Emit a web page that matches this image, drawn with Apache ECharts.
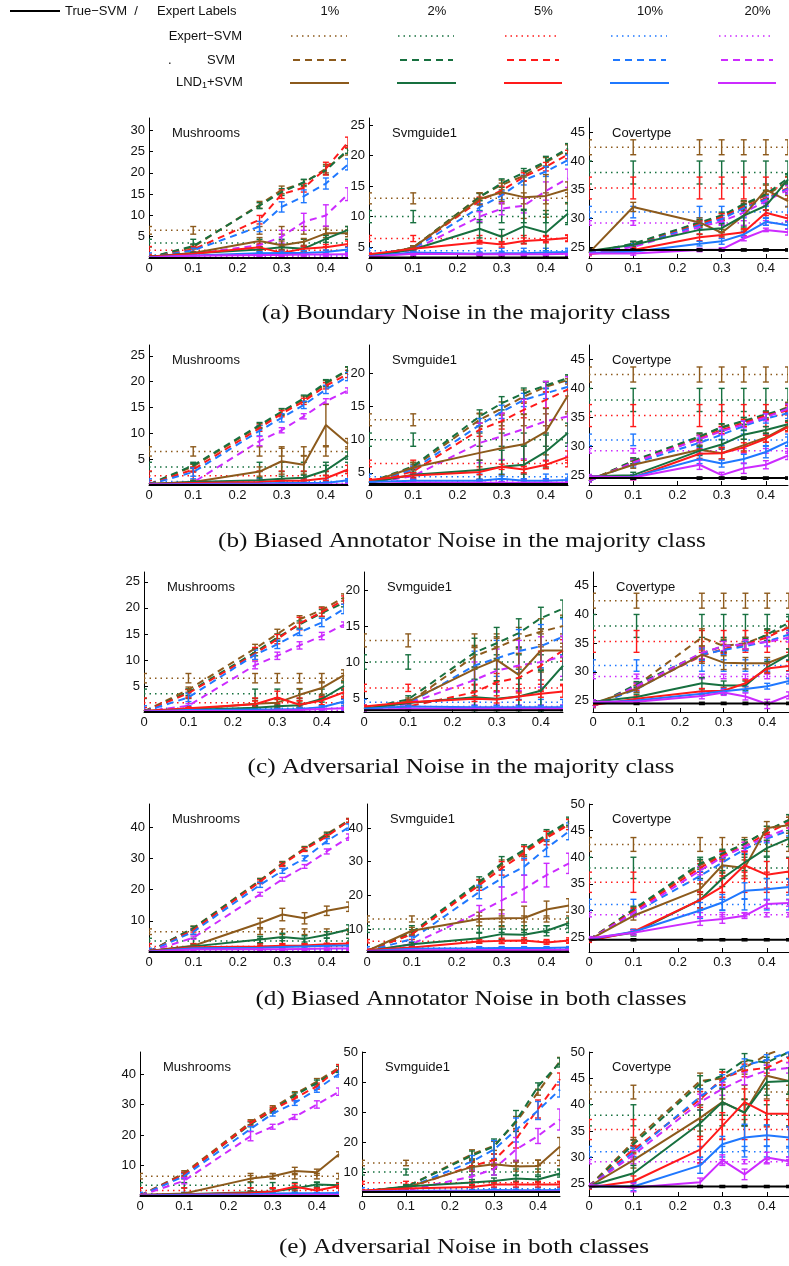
<!DOCTYPE html>
<html>
<head>
<meta charset="utf-8">
<script src="https://cdn.jsdelivr.net/npm/echarts@6/dist/echarts.min.js"></script>
<style>
html,body{margin:0;padding:0;background:#fff;}
#chart{width:789px;height:1266px;}
</style>
</head>
<body>
<div id="chart"></div>
<script>
// ---- shared axes / labels ----
const NOISE_LEVELS = [0, 0.1, 0.25, 0.3, 0.35, 0.4, 0.45];
const X_TICKS = [0, 0.1, 0.2, 0.3, 0.4];
const EXPERT_FRACTIONS = ['1%', '2%', '5%', '10%', '20%'];
const DATASETS = ['Mushrooms', 'Svmguide1', 'Covertype'];
const CAPTIONS = [
  '(a) Boundary Noise in the majority class',
  '(b) Biased Annotator Noise in the majority class',
  '(c) Adversarial Noise in the majority class',
  '(d) Biased Annotator Noise in both classes',
  '(e) Adversarial Noise in both classes'
];

// ---- reference levels (same expert labels for every noise type) ----
const EXPERT_MUSH = [6.5, 3.5, 1.8, 0.7, 0.3];
const EXPERT_MUSH_ERR = [0.9, 0.9, 0.9, 0.5, 0.2];
const EXPERT_SVMG = [13.0, 10.0, 6.4, 4.4, 3.8];
const EXPERT_SVMG_ERR = [0.9, 1.0, 0.5, 0.4, 0.2];
const EXPERT_COVT = [42.4, 38.0, 35.3, 31.1, 29.2];
const EXPERT_COVT_ERR = [1.3, 2.0, 1.9, 1.0, 0.4];
const TRUE_SVM = [0.0, 3.3, 24.5];
const TRUE_SVM_ERR = [0.0, 0.05, 0.2];

// ---- y ranges and tick labels per row ----
const Y_RANGE_A = [[0, 32.9], [3.2, 26.2], [23.1, 47.5]];
const Y_TICKS_A = [[5, 10, 15, 20, 25, 30], [5, 10, 15, 20, 25], [25, 30, 35, 40, 45]];
const Y_RANGE_B = [[0, 27.1], [3.15, 24.3], [23.3, 47.5]];
const Y_TICKS_B = [[5, 10, 15, 20, 25], [5, 10, 15, 20], [25, 30, 35, 40, 45]];
const Y_RANGE_C = [[0, 26.9], [3.05, 22.5], [23.0, 47.4]];
const Y_TICKS_C = [[5, 10, 15, 20, 25], [5, 10, 15, 20], [25, 30, 35, 40, 45]];
const Y_RANGE_D = [[0, 47.4], [3.2, 47.1], [22.2, 50]];
const Y_TICKS_D = [[10, 20, 30, 40], [10, 20, 30, 40], [25, 30, 35, 40, 45, 50]];
const Y_RANGE_E = [[0, 47.2], [2.0, 50], [22.7, 50]];
const Y_TICKS_E = [[10, 20, 30, 40], [10, 20, 30, 40, 50], [25, 30, 35, 40, 45, 50]];

// ---- (a) Boundary noise, majority class ----
const MUSH_A_SVM = [
  [0.1, 2.6, 12.5, 16.0, 17.6, 21.0, 25.0],
  [0.1, 2.8, 12.3, 15.5, 17.8, 20.6, 25.5],
  [0.1, 2.0, 9.0, 15.0, 16.5, 21.0, 27.2],
  [0.1, 1.8, 7.4, 12.0, 14.5, 17.5, 22.0],
  [0.1, 1.0, 3.0, 5.0, 8.5, 10.0, 15.0]];
const MUSH_A_SVM_ERR = [
  [0.1, 0.5, 0.8, 0.9, 0.8, 1.0, 0.8],
  [0.1, 0.5, 0.7, 0.8, 0.7, 1.0, 0.9],
  [0.1, 0.6, 1.0, 1.0, 1.0, 1.5, 1.2],
  [0.1, 0.5, 1.2, 1.2, 1.5, 1.3, 1.3],
  [0.1, 0.3, 0.8, 1.5, 2.0, 2.5, 1.5]];
const MUSH_A_LND = [
  [0.3, 1.2, 4.0, 3.0, 3.8, 5.8, 5.8],
  [0.3, 1.1, 2.0, 2.5, 2.2, 4.5, 6.6],
  [0.3, 1.0, 2.5, 1.2, 2.2, 2.5, 3.3],
  [0.2, 0.6, 1.1, 1.2, 1.2, 1.4, 2.0],
  [0.1, 0.5, 0.7, 0.7, 0.8, 0.8, 0.9]];
const MUSH_A_LND_ERR = [
  [0.1, 0.3, 0.8, 1.0, 0.8, 1.0, 0.8],
  [0.1, 0.3, 0.6, 0.7, 0.6, 0.8, 0.8],
  [0.1, 0.3, 0.8, 0.6, 0.6, 0.7, 0.7],
  [0.1, 0.2, 0.4, 0.4, 0.5, 0.5, 0.5],
  [0.05, 0.2, 0.3, 0.3, 0.3, 0.3, 0.3]];
const SVMG_A_SVM = [
  [3.5, 4.9, 13.3, 15.2, 16.7, 18.9, 21.0],
  [3.5, 4.9, 13.2, 15.5, 17.2, 19.1, 21.2],
  [3.5, 4.8, 12.6, 14.3, 16.5, 18.2, 20.2],
  [3.5, 4.7, 11.5, 13.5, 16.0, 17.4, 19.3],
  [3.5, 4.5, 10.0, 11.3, 11.8, 14.2, 16.3]];
const SVMG_A_SVM_ERR = [
  [0.2, 0.3, 0.6, 0.8, 0.8, 0.8, 0.8],
  [0.2, 0.3, 0.6, 0.7, 0.7, 0.8, 0.8],
  [0.2, 0.3, 0.6, 0.7, 0.7, 0.7, 0.7],
  [0.2, 0.3, 0.6, 0.7, 0.8, 0.8, 0.8],
  [0.2, 0.3, 0.8, 1.0, 1.2, 1.5, 1.5]];
const SVMG_A_LND = [
  [3.5, 4.9, 12.9, 14.0, 13.2, 13.4, 14.5],
  [3.5, 4.6, 8.0, 6.7, 8.4, 7.4, 10.5],
  [3.8, 4.7, 5.8, 5.4, 6.0, 6.2, 6.5],
  [3.5, 4.1, 3.9, 4.0, 4.0, 4.1, 4.2],
  [3.4, 3.9, 3.8, 3.8, 3.8, 3.8, 3.9]];
const SVMG_A_LND_ERR = [
  [0.2, 0.3, 1.0, 1.5, 3.5, 3.5, 1.2],
  [0.2, 0.3, 1.5, 1.2, 2.8, 3.0, 1.8],
  [0.2, 0.2, 0.3, 0.4, 0.5, 0.5, 0.5],
  [0.1, 0.2, 0.3, 0.3, 0.3, 0.3, 0.3],
  [0.1, 0.1, 0.2, 0.2, 0.2, 0.2, 0.2]];
const COVT_A_SVM = [
  [24.0, 25.5, 29.2, 30.3, 32.3, 34.0, 36.5],
  [24.0, 25.6, 29.3, 30.5, 32.5, 34.2, 37.0],
  [24.0, 25.2, 29.0, 30.2, 32.0, 33.5, 35.3],
  [24.0, 25.2, 28.8, 29.9, 31.8, 33.3, 35.2],
  [24.0, 25.0, 28.5, 29.5, 31.0, 33.0, 35.0]];
const COVT_A_SVM_ERR = [
  [0.2, 0.4, 0.5, 0.6, 0.6, 0.7, 0.8],
  [0.2, 0.4, 0.5, 0.6, 0.6, 0.7, 0.8],
  [0.2, 0.4, 0.5, 0.6, 0.6, 0.7, 0.8],
  [0.2, 0.4, 0.5, 0.6, 0.6, 0.7, 0.8],
  [0.2, 0.4, 0.5, 0.6, 0.6, 0.7, 0.8]];
const COVT_A_LND = [
  [24.0, 32.0, 29.3, 27.5, 30.5, 35.0, 33.0],
  [24.3, 25.4, 28.0, 28.3, 30.5, 32.2, 36.8],
  [23.8, 24.5, 26.7, 27.1, 27.6, 31.0, 30.0],
  [24.0, 24.2, 25.6, 26.0, 27.2, 29.4, 28.8],
  [23.9, 23.9, 24.5, 24.6, 26.5, 28.0, 27.6]];
const COVT_A_LND_ERR = [
  [0.3, 0.8, 0.8, 0.6, 2.5, 0.8, 1.0],
  [0.3, 0.6, 0.8, 0.8, 2.0, 0.8, 0.8],
  [0.3, 0.4, 0.6, 0.5, 0.6, 0.5, 0.6],
  [0.3, 0.3, 0.4, 0.5, 0.5, 0.6, 0.6],
  [0.3, 0.3, 0.3, 0.3, 0.4, 0.3, 0.5]];

// ---- (b) Biased annotator noise, majority class ----
const MUSH_B_SVM = [
  [0.1, 3.6, 11.4, 14.1, 16.6, 19.6, 22.2],
  [0.1, 3.8, 11.6, 14.2, 16.8, 19.8, 22.3],
  [0.1, 3.0, 11.0, 13.8, 16.2, 19.2, 21.5],
  [0.1, 2.5, 10.5, 13.0, 15.5, 18.5, 21.0],
  [0.1, 0.5, 8.5, 10.6, 13.3, 16.2, 18.3]];
const MUSH_B_SVM_ERR = [
  [0.1, 0.4, 0.5, 0.6, 0.6, 0.6, 0.6],
  [0.1, 0.4, 0.5, 0.6, 0.6, 0.6, 0.6],
  [0.1, 0.5, 0.6, 0.6, 0.6, 0.6, 0.7],
  [0.1, 0.8, 1.0, 0.8, 0.7, 0.8, 0.8],
  [0.1, 0.3, 0.9, 0.5, 0.5, 0.5, 0.5]];
const MUSH_B_LND = [
  [0.2, 0.6, 2.6, 4.6, 3.9, 11.6, 8.0],
  [0.2, 0.6, 0.9, 1.2, 1.4, 2.8, 5.7],
  [0.2, 0.4, 0.6, 0.8, 0.8, 1.3, 3.0],
  [0.1, 0.2, 0.3, 0.4, 0.4, 0.4, 0.9],
  [0.1, 0.1, 0.1, 0.1, 0.1, 0.1, 0.1]];
const MUSH_B_LND_ERR = [
  [0.1, 0.3, 0.9, 2.5, 1.8, 4.0, 1.0],
  [0.1, 0.2, 0.5, 0.5, 0.5, 1.0, 0.7],
  [0.1, 0.2, 0.3, 0.4, 0.4, 0.6, 0.8],
  [0.05, 0.1, 0.2, 0.2, 0.2, 0.2, 0.3],
  [0.05, 0.1, 0.1, 0.1, 0.1, 0.1, 0.1]];
const SVMG_B_SVM = [
  [3.5, 5.8, 13.0, 14.7, 16.5, 18.0, 19.0],
  [3.5, 6.0, 13.5, 15.5, 17.0, 18.2, 19.3],
  [3.5, 5.2, 11.5, 12.8, 14.5, 16.0, 17.6],
  [3.5, 5.5, 12.2, 14.2, 16.0, 17.0, 18.0],
  [3.4, 4.5, 9.5, 10.5, 11.6, 12.8, 13.5]];
const SVMG_B_SVM_ERR = [
  [0.2, 0.4, 1.0, 1.0, 1.0, 0.8, 0.6],
  [0.2, 0.5, 1.0, 1.0, 0.8, 0.5, 0.5],
  [0.2, 0.5, 1.0, 1.2, 1.2, 1.2, 1.0],
  [0.2, 0.5, 1.0, 1.0, 1.0, 0.8, 0.6],
  [0.2, 0.4, 3.0, 3.5, 4.5, 6.0, 6.0]];
const SVMG_B_LND = [
  [3.5, 5.8, 8.0, 8.7, 9.3, 11.2, 16.7],
  [3.5, 4.7, 5.4, 5.9, 6.2, 8.2, 11.0],
  [3.9, 4.6, 5.1, 5.9, 5.5, 6.2, 7.4],
  [3.6, 3.8, 3.8, 4.1, 3.8, 3.8, 3.9],
  [3.3, 3.5, 3.5, 3.5, 3.5, 3.5, 3.5]];
const SVMG_B_LND_ERR = [
  [0.2, 0.8, 4.0, 4.0, 4.5, 3.5, 2.5],
  [0.2, 0.4, 1.5, 2.5, 3.0, 2.5, 1.5],
  [0.2, 0.4, 0.4, 0.4, 0.5, 0.6, 0.9],
  [0.1, 0.2, 0.2, 0.4, 0.3, 0.3, 0.3],
  [0.1, 0.1, 0.1, 0.1, 0.1, 0.1, 0.1]];
const COVT_B_SVM = [
  [24.0, 27.4, 31.6, 33.2, 34.3, 35.2, 36.8],
  [24.0, 27.5, 31.7, 33.3, 34.4, 35.5, 36.6],
  [24.0, 27.2, 31.3, 32.8, 34.0, 35.3, 36.2],
  [24.0, 27.0, 30.6, 32.0, 33.5, 34.8, 35.7],
  [24.0, 27.2, 31.2, 32.6, 33.8, 35.0, 36.5]];
const COVT_B_SVM_ERR = [
  [0.2, 0.5, 0.6, 0.6, 0.6, 0.6, 0.8],
  [0.2, 0.5, 0.6, 0.6, 0.6, 0.6, 0.8],
  [0.2, 0.5, 0.6, 0.6, 0.6, 0.6, 0.8],
  [0.2, 0.6, 0.8, 0.8, 0.8, 0.8, 0.9],
  [0.2, 0.5, 0.6, 0.6, 0.6, 0.6, 0.8]];
const COVT_B_LND = [
  [24.3, 26.8, 29.4, 28.8, 30.2, 31.5, 33.5],
  [24.8, 25.0, 29.2, 30.3, 32.0, 32.8, 33.8],
  [24.5, 24.6, 28.7, 28.8, 29.8, 31.3, 33.3],
  [24.5, 24.7, 27.8, 27.0, 27.8, 29.0, 30.8],
  [24.8, 24.6, 26.8, 25.0, 26.2, 26.8, 28.4]];
const COVT_B_LND_ERR = [
  [0.3, 0.6, 0.8, 1.0, 1.0, 0.8, 0.8],
  [0.3, 0.5, 0.8, 0.8, 0.8, 0.6, 0.6],
  [0.3, 0.4, 0.8, 1.0, 0.8, 0.6, 0.8],
  [0.3, 0.4, 0.8, 0.6, 0.8, 1.0, 0.8],
  [0.3, 0.4, 0.8, 0.5, 0.9, 0.7, 0.7]];

// ---- (c) Adversarial noise, majority class ----
const MUSH_C_SVM = [
  [0.1, 4.3, 12.2, 15.0, 17.8, 19.6, 22.0],
  [0.1, 3.8, 11.5, 14.3, 16.8, 19.0, 21.0],
  [0.1, 3.6, 11.2, 14.0, 17.0, 19.2, 21.5],
  [0.1, 2.8, 11.0, 13.0, 15.3, 17.2, 19.8],
  [0.1, 1.2, 9.0, 10.8, 12.8, 14.6, 16.8]];
const MUSH_C_SVM_ERR = [
  [0.1, 0.5, 0.8, 0.9, 0.7, 0.6, 0.7],
  [0.1, 0.6, 0.7, 0.7, 0.7, 0.7, 0.8],
  [0.1, 0.7, 1.2, 0.9, 1.2, 0.8, 0.8],
  [0.1, 0.8, 0.9, 0.8, 0.6, 0.8, 0.9],
  [0.1, 0.4, 0.7, 0.7, 0.7, 0.7, 0.5]];
const MUSH_C_LND = [
  [0.2, 0.5, 1.6, 1.8, 3.3, 4.6, 7.1],
  [0.2, 0.4, 0.8, 1.1, 1.3, 2.5, 5.0],
  [0.2, 0.7, 1.5, 2.8, 1.4, 2.2, 3.8],
  [0.1, 0.4, 0.5, 0.5, 0.6, 0.9, 2.0],
  [0.1, 0.2, 0.2, 0.3, 0.4, 0.6, 0.7]];
const MUSH_C_LND_ERR = [
  [0.1, 0.3, 0.6, 0.6, 1.2, 1.2, 1.0],
  [0.1, 0.2, 0.4, 0.4, 0.4, 0.6, 0.8],
  [0.1, 0.3, 0.6, 1.2, 0.8, 0.8, 0.8],
  [0.05, 0.2, 0.2, 0.2, 0.2, 0.3, 0.4],
  [0.05, 0.1, 0.1, 0.1, 0.1, 0.2, 0.2]];
const SVMG_C_SVM = [
  [3.5, 4.3, 10.8, 12.0, 13.3, 14.2, 15.0],
  [3.5, 4.8, 11.3, 12.6, 14.0, 16.1, 17.4],
  [3.5, 3.8, 5.8, 7.2, 7.8, 9.5, 11.6],
  [3.5, 4.2, 9.5, 10.5, 11.5, 12.2, 13.5],
  [3.5, 4.2, 7.5, 8.8, 9.5, 10.0, 10.8]];
const SVMG_C_SVM_ERR = [
  [0.2, 0.4, 1.5, 1.5, 1.5, 1.8, 1.5],
  [0.2, 0.5, 2.0, 2.2, 2.0, 1.5, 1.2],
  [0.2, 0.3, 1.0, 1.2, 1.5, 2.0, 1.5],
  [0.2, 0.4, 2.0, 2.5, 3.0, 3.0, 2.5],
  [0.2, 0.4, 2.5, 3.0, 3.5, 3.5, 2.8]];
const SVMG_C_LND = [
  [3.5, 4.5, 9.0, 10.3, 8.2, 11.6, 11.6],
  [3.5, 4.3, 5.1, 4.9, 5.2, 6.0, 9.5],
  [3.8, 4.4, 4.9, 4.8, 5.2, 5.6, 5.9],
  [3.5, 3.8, 3.7, 3.7, 3.7, 3.7, 3.7],
  [3.3, 3.5, 3.5, 3.5, 3.5, 3.5, 3.5]];
const SVMG_C_LND_ERR = [
  [0.2, 0.5, 3.0, 3.0, 3.0, 3.0, 1.0],
  [0.2, 0.4, 2.5, 2.5, 2.5, 2.8, 2.0],
  [0.2, 0.3, 0.4, 0.5, 0.5, 0.5, 0.8],
  [0.1, 0.2, 0.2, 0.2, 0.2, 0.2, 0.2],
  [0.1, 0.1, 0.1, 0.1, 0.1, 0.1, 0.1]];
const COVT_C_SVM = [
  [24.0, 27.6, 36.0, 34.5, 35.0, 36.4, 37.8],
  [24.0, 27.8, 33.2, 34.5, 34.8, 36.5, 38.6],
  [24.0, 27.2, 32.8, 34.0, 34.8, 36.0, 37.8],
  [24.0, 27.0, 33.0, 33.8, 34.5, 35.3, 36.5],
  [24.0, 27.5, 33.3, 34.5, 34.8, 35.2, 36.0]];
const COVT_C_SVM_ERR = [
  [0.2, 0.5, 1.5, 1.2, 1.0, 1.0, 1.0],
  [0.2, 0.5, 1.0, 1.0, 1.0, 1.0, 1.0],
  [0.2, 0.5, 1.0, 0.8, 0.8, 0.8, 1.0],
  [0.2, 0.5, 1.0, 0.8, 0.8, 0.8, 0.8],
  [0.2, 0.5, 1.0, 0.8, 0.8, 0.8, 0.8]];
const COVT_C_LND = [
  [24.5, 27.0, 33.0, 31.6, 31.5, 31.5, 33.0],
  [24.8, 25.6, 28.0, 27.6, 27.6, 30.8, 33.0],
  [24.2, 25.3, 26.6, 26.7, 28.0, 30.6, 31.0],
  [24.6, 25.0, 26.2, 26.6, 27.0, 27.5, 28.4],
  [24.8, 24.8, 25.8, 26.4, 25.7, 24.4, 25.9]];
const COVT_C_LND_ERR = [
  [0.3, 0.6, 1.5, 1.2, 1.0, 1.0, 1.0],
  [0.3, 0.5, 1.0, 0.8, 0.8, 1.0, 1.0],
  [0.3, 0.5, 0.5, 0.6, 0.6, 0.8, 0.8],
  [0.3, 0.4, 0.4, 0.5, 0.5, 0.5, 0.5],
  [0.3, 0.4, 0.5, 0.5, 0.6, 0.8, 0.6]];

// ---- (d) Biased annotator noise, both classes ----
const MUSH_D_SVM = [
  [0.1, 7.7, 23.0, 28.4, 33.2, 37.8, 42.2],
  [0.1, 7.6, 22.8, 28.2, 33.0, 37.5, 42.0],
  [0.1, 7.0, 22.5, 28.0, 32.8, 37.0, 42.0],
  [0.1, 6.5, 21.5, 26.0, 30.0, 35.5, 40.0],
  [0.1, 4.6, 18.5, 23.3, 27.4, 32.2, 36.8]];
const MUSH_D_SVM_ERR = [
  [0.1, 0.6, 0.6, 0.6, 0.6, 0.6, 0.6],
  [0.1, 0.6, 0.6, 0.6, 0.6, 0.6, 0.6],
  [0.1, 0.6, 0.6, 0.6, 0.6, 0.6, 0.6],
  [0.1, 0.8, 0.8, 0.8, 0.8, 0.8, 1.0],
  [0.1, 0.5, 0.6, 0.6, 0.6, 0.8, 1.0]];
const MUSH_D_LND = [
  [0.3, 2.0, 9.3, 12.0, 10.8, 13.2, 14.5],
  [0.3, 1.8, 4.0, 4.8, 4.2, 5.5, 7.2],
  [0.3, 1.5, 1.8, 2.0, 2.1, 2.5, 2.7],
  [0.2, 1.2, 1.4, 1.6, 1.8, 2.0, 2.1],
  [0.1, 0.8, 0.9, 0.9, 1.0, 1.1, 1.1]];
const MUSH_D_LND_ERR = [
  [0.1, 0.4, 1.5, 2.0, 1.8, 1.5, 1.5],
  [0.1, 0.3, 1.0, 1.2, 1.0, 1.0, 1.5],
  [0.1, 0.3, 0.3, 0.3, 0.3, 0.3, 0.4],
  [0.05, 0.2, 0.2, 0.2, 0.2, 0.2, 0.2],
  [0.05, 0.1, 0.1, 0.1, 0.1, 0.1, 0.1]];
const SVMG_D_SVM = [
  [3.5, 8.5, 23.5, 29.0, 33.0, 37.5, 41.5],
  [3.5, 9.0, 24.0, 29.5, 33.5, 38.0, 42.0],
  [3.5, 8.5, 23.0, 28.0, 32.5, 37.0, 41.0],
  [3.5, 7.0, 21.0, 25.0, 28.5, 34.0, 39.0],
  [3.5, 5.5, 15.0, 18.5, 22.0, 26.0, 29.5]];
const SVMG_D_SVM_ERR = [
  [0.2, 0.6, 1.2, 1.5, 1.5, 1.5, 1.2],
  [0.2, 0.8, 1.5, 2.0, 1.5, 1.5, 1.2],
  [0.2, 0.6, 1.5, 2.0, 2.0, 2.0, 1.5],
  [0.2, 0.8, 2.0, 2.5, 2.5, 2.5, 2.5],
  [0.2, 0.5, 2.0, 4.0, 4.0, 3.5, 3.0]];
const SVMG_D_LND = [
  [3.5, 9.5, 13.0, 13.2, 13.3, 15.8, 17.0],
  [3.5, 5.5, 7.3, 8.5, 8.3, 9.5, 11.8],
  [3.8, 4.5, 6.3, 6.5, 6.6, 6.0, 6.6],
  [3.5, 4.2, 4.3, 4.4, 4.4, 4.4, 4.5],
  [3.4, 3.7, 3.8, 3.8, 3.8, 3.8, 3.9]];
const SVMG_D_LND_ERR = [
  [0.2, 1.0, 2.0, 2.5, 3.5, 2.5, 2.0],
  [0.2, 0.5, 1.5, 1.5, 1.5, 1.5, 1.5],
  [0.2, 0.3, 0.5, 0.8, 0.8, 0.5, 0.8],
  [0.1, 0.2, 0.3, 0.3, 0.3, 0.3, 0.3],
  [0.1, 0.1, 0.2, 0.2, 0.2, 0.2, 0.2]];
const COVT_D_SVM = [
  [24.5, 30.0, 38.5, 40.5, 42.5, 45.0, 47.0],
  [24.5, 30.2, 38.8, 40.7, 42.5, 45.0, 47.0],
  [24.5, 29.8, 38.0, 40.3, 42.0, 44.5, 46.5],
  [24.5, 29.5, 36.5, 39.0, 41.5, 43.5, 45.0],
  [24.5, 29.5, 37.5, 40.0, 42.0, 43.8, 45.5]];
const COVT_D_SVM_ERR = [
  [0.2, 0.6, 0.8, 0.8, 0.8, 0.8, 1.0],
  [0.2, 0.6, 0.8, 0.8, 0.8, 0.8, 1.0],
  [0.2, 0.6, 0.8, 0.8, 0.8, 0.8, 1.0],
  [0.2, 0.6, 0.8, 0.8, 0.8, 0.8, 1.0],
  [0.2, 0.6, 0.8, 0.8, 0.8, 0.8, 1.0]];
const COVT_D_LND = [
  [24.5, 29.0, 34.0, 38.5, 38.0, 45.5, 46.0],
  [24.6, 25.8, 32.0, 36.0, 39.0, 41.7, 43.5],
  [24.3, 26.0, 32.0, 34.5, 38.5, 36.7, 37.3],
  [24.6, 26.0, 30.0, 31.5, 33.7, 34.0, 34.4],
  [24.8, 25.8, 28.0, 28.4, 29.0, 31.2, 31.4]];
const COVT_D_LND_ERR = [
  [0.3, 0.8, 1.0, 1.5, 1.5, 1.2, 1.5],
  [0.3, 0.6, 1.5, 1.5, 1.5, 1.5, 1.5],
  [0.3, 0.5, 1.5, 2.0, 2.5, 2.5, 2.5],
  [0.3, 0.4, 1.5, 1.5, 1.5, 2.0, 1.5],
  [0.3, 0.4, 0.8, 0.8, 0.5, 0.8, 0.6]];

// ---- (e) Adversarial noise, both classes ----
const MUSH_E_SVM = [
  [0.1, 7.5, 24.2, 28.8, 33.4, 37.5, 42.1],
  [0.1, 7.0, 23.5, 28.0, 33.0, 37.0, 41.5],
  [0.1, 7.0, 23.8, 28.3, 32.0, 36.0, 42.0],
  [0.1, 6.5, 22.0, 27.0, 30.5, 35.0, 40.0],
  [0.1, 5.0, 19.6, 22.7, 25.9, 30.0, 34.2]];
const MUSH_E_SVM_ERR = [
  [0.1, 0.8, 0.8, 0.8, 0.8, 1.0, 1.0],
  [0.1, 0.8, 0.8, 0.8, 0.8, 1.0, 1.0],
  [0.1, 0.8, 0.8, 0.8, 0.8, 1.0, 1.0],
  [0.1, 0.8, 0.8, 0.8, 0.8, 1.0, 1.0],
  [0.1, 1.0, 1.5, 0.8, 0.8, 1.2, 1.2]];
const MUSH_E_LND = [
  [0.3, 0.8, 5.7, 6.5, 8.2, 7.8, 13.7],
  [0.3, 0.6, 1.2, 1.5, 2.5, 3.8, 3.5],
  [0.3, 0.5, 1.0, 1.5, 3.0, 1.8, 3.3],
  [0.2, 0.4, 0.6, 0.8, 0.9, 0.9, 1.0],
  [0.1, 0.2, 0.2, 0.3, 0.3, 0.4, 0.4]];
const MUSH_E_LND_ERR = [
  [0.1, 0.3, 1.0, 0.8, 1.2, 1.0, 0.8],
  [0.1, 0.3, 0.5, 0.8, 0.8, 0.8, 0.6],
  [0.1, 0.3, 0.5, 1.0, 1.0, 0.8, 0.8],
  [0.05, 0.2, 0.2, 0.2, 0.2, 0.2, 0.2],
  [0.05, 0.1, 0.1, 0.1, 0.1, 0.1, 0.1]];
const SVMG_E_SVM = [
  [3.5, 5.0, 15.9, 18.7, 26.5, 36.6, 47.0],
  [3.5, 5.0, 15.5, 18.5, 27.0, 38.5, 46.5],
  [3.5, 4.5, 12.0, 14.0, 21.0, 31.0, 41.0],
  [3.5, 4.5, 13.5, 17.5, 24.0, 30.5, 37.5],
  [3.5, 3.8, 8.5, 11.0, 17.5, 22.0, 27.5]];
const SVMG_E_SVM_ERR = [
  [0.2, 0.6, 1.5, 1.5, 2.0, 1.0, 1.2],
  [0.2, 0.6, 1.5, 2.5, 3.5, 1.2, 1.5],
  [0.2, 0.5, 1.5, 2.0, 3.0, 3.0, 2.0],
  [0.2, 0.5, 2.0, 3.0, 4.0, 3.0, 2.5],
  [0.2, 0.4, 2.0, 2.0, 4.0, 2.5, 3.5]];
const SVMG_E_LND = [
  [3.5, 4.8, 11.7, 12.6, 11.8, 12.0, 18.5],
  [3.5, 5.2, 6.5, 7.0, 7.8, 7.5, 9.5],
  [3.8, 4.5, 5.0, 5.8, 5.8, 5.8, 5.8],
  [3.5, 3.7, 3.8, 4.0, 3.9, 3.9, 4.0],
  [3.4, 3.5, 3.5, 3.5, 3.5, 3.5, 3.5]];
const SVMG_E_LND_ERR = [
  [0.2, 0.5, 1.5, 1.5, 1.5, 2.0, 3.0],
  [0.2, 0.5, 1.0, 1.0, 1.0, 1.0, 1.2],
  [0.2, 0.3, 0.8, 0.8, 0.8, 0.8, 0.8],
  [0.1, 0.2, 0.3, 0.3, 0.3, 0.3, 0.3],
  [0.1, 0.1, 0.2, 0.2, 0.2, 0.2, 0.2]];
const COVT_E_SVM = [
  [24.5, 33.0, 44.5, 45.0, 47.0, 49.5, 51.0],
  [24.5, 32.5, 44.0, 45.5, 48.5, 48.0, 50.0],
  [24.5, 31.5, 41.0, 45.0, 46.5, 47.0, 49.0],
  [24.5, 31.0, 41.5, 44.5, 47.5, 48.5, 50.0],
  [24.5, 30.5, 40.5, 43.0, 45.0, 46.5, 47.0]];
const COVT_E_SVM_ERR = [
  [0.3, 0.8, 1.5, 1.2, 1.2, 1.0, 1.0],
  [0.3, 0.8, 1.5, 1.2, 1.2, 1.0, 1.0],
  [0.3, 0.8, 1.5, 1.2, 1.2, 1.0, 1.0],
  [0.3, 0.8, 1.5, 1.2, 1.2, 1.0, 1.0],
  [0.3, 0.8, 1.5, 1.2, 1.2, 1.0, 1.0]];
const COVT_E_LND = [
  [24.5, 29.5, 37.5, 40.5, 38.5, 45.5, 44.5],
  [24.6, 27.0, 36.5, 40.5, 38.5, 44.3, 44.5],
  [24.3, 25.5, 31.5, 36.0, 40.5, 38.3, 38.3],
  [24.5, 24.5, 28.5, 32.5, 33.8, 34.2, 33.8],
  [24.8, 24.3, 25.3, 29.5, 26.8, 30.0, 29.3]];
const COVT_E_LND_ERR = [
  [0.3, 1.5, 2.5, 2.5, 2.5, 2.5, 2.5],
  [0.3, 1.5, 2.5, 2.5, 2.5, 2.5, 2.5],
  [0.3, 1.0, 2.5, 2.5, 2.5, 2.5, 2.5],
  [0.3, 0.8, 1.5, 1.5, 2.5, 2.0, 2.0],
  [0.3, 0.8, 0.8, 1.0, 1.0, 1.0, 0.8]];

// ---- styling ----
const SERIES_COLORS = ['#8c5a1c', '#17703f', '#ff1a1a', '#1f78ff', '#cc2bff', '#000000'];
const SANS = '"Liberation Sans", Arial, Helvetica, sans-serif';
const SERIF = '"Liberation Serif", "Times New Roman", serif';
const DOT = [1.5, 4];
const DASH = [7, 5];

// plot boxes (pixels) for each row of panels
const ROW_BOX = [
  { top: 118, bottom: 258, left: [149, 369, 589], right: [348, 568, 788] },
  { top: 345, bottom: 485, left: [149, 369, 589], right: [348, 568, 788] },
  { top: 572, bottom: 712, left: [144, 364, 593], right: [344, 563, 789] },
  { top: 804, bottom: 952, left: [149, 367, 589], right: [349, 569, 789] },
  { top: 1052, bottom: 1196, left: [140, 362, 589], right: [339, 560, 789] }
];
const CAPTION_XY = [[466, 313], [462, 541], [461, 767], [471, 999], [464, 1247]];

const EXPERT = [EXPERT_MUSH, EXPERT_SVMG, EXPERT_COVT];
const EXPERT_ERR = [EXPERT_MUSH_ERR, EXPERT_SVMG_ERR, EXPERT_COVT_ERR];
const ROWS = [
  { range: Y_RANGE_A, ticks: Y_TICKS_A,
    svm: [MUSH_A_SVM, SVMG_A_SVM, COVT_A_SVM], svmErr: [MUSH_A_SVM_ERR, SVMG_A_SVM_ERR, COVT_A_SVM_ERR],
    lnd: [MUSH_A_LND, SVMG_A_LND, COVT_A_LND], lndErr: [MUSH_A_LND_ERR, SVMG_A_LND_ERR, COVT_A_LND_ERR] },
  { range: Y_RANGE_B, ticks: Y_TICKS_B,
    svm: [MUSH_B_SVM, SVMG_B_SVM, COVT_B_SVM], svmErr: [MUSH_B_SVM_ERR, SVMG_B_SVM_ERR, COVT_B_SVM_ERR],
    lnd: [MUSH_B_LND, SVMG_B_LND, COVT_B_LND], lndErr: [MUSH_B_LND_ERR, SVMG_B_LND_ERR, COVT_B_LND_ERR] },
  { range: Y_RANGE_C, ticks: Y_TICKS_C,
    svm: [MUSH_C_SVM, SVMG_C_SVM, COVT_C_SVM], svmErr: [MUSH_C_SVM_ERR, SVMG_C_SVM_ERR, COVT_C_SVM_ERR],
    lnd: [MUSH_C_LND, SVMG_C_LND, COVT_C_LND], lndErr: [MUSH_C_LND_ERR, SVMG_C_LND_ERR, COVT_C_LND_ERR] },
  { range: Y_RANGE_D, ticks: Y_TICKS_D,
    svm: [MUSH_D_SVM, SVMG_D_SVM, COVT_D_SVM], svmErr: [MUSH_D_SVM_ERR, SVMG_D_SVM_ERR, COVT_D_SVM_ERR],
    lnd: [MUSH_D_LND, SVMG_D_LND, COVT_D_LND], lndErr: [MUSH_D_LND_ERR, SVMG_D_LND_ERR, COVT_D_LND_ERR] },
  { range: Y_RANGE_E, ticks: Y_TICKS_E,
    svm: [MUSH_E_SVM, SVMG_E_SVM, COVT_E_SVM], svmErr: [MUSH_E_SVM_ERR, SVMG_E_SVM_ERR, COVT_E_SVM_ERR],
    lnd: [MUSH_E_LND, SVMG_E_LND, COVT_E_LND], lndErr: [MUSH_E_LND_ERR, SVMG_E_LND_ERR, COVT_E_LND_ERR] }
];

const grids = [], xAxes = [], yAxes = [], series = [], graphics = [];

function lineSeries(gi, values, colorIdx, dash, width, z) {
  return {
    type: 'line', xAxisIndex: gi, yAxisIndex: gi,
    data: NOISE_LEVELS.map((x, i) => [x, values[i]]),
    symbol: 'none', showSymbol: false, silent: true, clip: true, z: z,
    lineStyle: { color: SERIES_COLORS[colorIdx], width: width, type: dash }
  };
}

function errorBarItems(values, errs, colorIdx, out) {
  NOISE_LEVELS.forEach((x, i) => out.push([x, values[i] - errs[i], values[i] + errs[i], colorIdx]));
}

function renderErrorBar(params, api) {
  const x = api.value(0), lo = api.value(1), hi = api.value(2);
  const color = SERIES_COLORS[api.value(3)];
  const p1 = api.coord([x, lo]);
  const p2 = api.coord([x, hi]);
  const w = 3;
  const style = { stroke: color, lineWidth: 1.4, fill: null };
  return {
    type: 'group',
    children: [
      { type: 'line', shape: { x1: p1[0], y1: p1[1], x2: p2[0], y2: p2[1] }, style: style },
      { type: 'line', shape: { x1: p1[0] - w, y1: p1[1], x2: p1[0] + w, y2: p1[1] }, style: style },
      { type: 'line', shape: { x1: p2[0] - w, y1: p2[1], x2: p2[0] + w, y2: p2[1] }, style: style }
    ]
  };
}

ROWS.forEach((row, r) => {
  const box = ROW_BOX[r];
  for (let d = 0; d < 3; d++) {
    const gi = grids.length;
    grids.push({
      left: box.left[d], top: box.top,
      width: box.right[d] - box.left[d], height: box.bottom - box.top,
      containLabel: false, outerBoundsMode: 'none', show: false
    });
    xAxes.push({
      gridIndex: gi, type: 'value', min: 0, max: 0.45,
      axisLine: { show: true, onZero: false, lineStyle: { color: '#000', width: 1 } },
      axisTick: { show: true, inside: true, length: 4, customValues: X_TICKS, lineStyle: { color: '#000', width: 1 } },
      axisLabel: { show: true, customValues: X_TICKS, margin: 4, fontSize: 13, fontFamily: SANS, color: '#111',
        formatter: v => String(Math.round(v * 10) / 10) },
      splitLine: { show: false }
    });
    yAxes.push({
      gridIndex: gi, type: 'value', min: row.range[d][0], max: row.range[d][1],
      axisLine: { show: true, onZero: false, lineStyle: { color: '#000', width: 1 } },
      axisTick: { show: true, inside: true, length: 4, customValues: row.ticks[d], lineStyle: { color: '#000', width: 1 } },
      axisLabel: { show: true, customValues: row.ticks[d], margin: 4, fontSize: 13, fontFamily: SANS, color: '#111' },
      splitLine: { show: false }
    });

    const bars = [];
    // Expert-SVM: dotted constant levels
    for (let k = 0; k < 5; k++) {
      const level = NOISE_LEVELS.map(() => EXPERT[d][k]);
      series.push(lineSeries(gi, level, k, DOT, 1.5, 2));
      errorBarItems(level, NOISE_LEVELS.map(() => EXPERT_ERR[d][k]), k, bars);
    }
    // SVM on noisy labels: dashed
    for (let k = 0; k < 5; k++) {
      series.push(lineSeries(gi, row.svm[d][k], k, DASH, 2, 3));
      errorBarItems(row.svm[d][k], row.svmErr[d][k], k, bars);
    }
    // LND1+SVM: solid
    for (let k = 0; k < 5; k++) {
      series.push(lineSeries(gi, row.lnd[d][k], k, 'solid', 2, 4));
      errorBarItems(row.lnd[d][k], row.lndErr[d][k], k, bars);
    }
    // True-SVM: black
    const trueLevel = NOISE_LEVELS.map(() => TRUE_SVM[d]);
    series.push(lineSeries(gi, trueLevel, 5, 'solid', 2, 5));
    errorBarItems(trueLevel, NOISE_LEVELS.map(() => TRUE_SVM_ERR[d]), 5, bars);

    series.push({
      type: 'custom', xAxisIndex: gi, yAxisIndex: gi, data: bars, clip: true, silent: true, z: 3,
      encode: { x: 0, y: [1, 2] }, renderItem: renderErrorBar
    });

    graphics.push({
      type: 'text', x: box.left[d] + 23, y: box.top + 15,
      style: { text: DATASETS[d], font: '13px ' + SANS, fill: '#111', align: 'left', verticalAlign: 'middle' }
    });
  }
  // sub-figure caption, widened to the look of a TeX roman face
  graphics.push({
    type: 'text', x: CAPTION_XY[r][0], y: CAPTION_XY[r][1], scaleX: 1.2,
    style: { text: CAPTIONS[r], font: '21px ' + SERIF, fill: '#111', align: 'center', verticalAlign: 'middle' }
  });
});

// ---- key at the top ----
function keyLine(x1, x2, y, color, dash, width) {
  graphics.push({ type: 'line', shape: { x1: x1, y1: y, x2: x2, y2: y },
    style: { stroke: color, lineWidth: width, lineDash: dash === 'solid' ? null : dash } });
}
function keyText(text, x, y, align) {
  graphics.push({ type: 'text', x: x, y: y,
    style: { text: text, font: '13px ' + SANS, fill: '#111', align: align, verticalAlign: 'middle' } });
}
keyLine(10, 60, 11, '#000', 'solid', 2);
keyText('True\u2212SVM  /', 65, 11, 'left');
keyText('Expert Labels', 157, 11, 'left');
const KEY_COL_X = [[291, 347], [398, 454], [505, 560], [611, 667], [719, 774]];
EXPERT_FRACTIONS.forEach((t, k) => {
  const [a, b] = KEY_COL_X[k];
  keyText(t, (a + b) / 2 + 11, 11, 'center');
  keyLine(a, b, 36, SERIES_COLORS[k], DOT, 1.5);
  keyLine(a + 2, b - 1, 60, SERIES_COLORS[k], DASH, 2);
  keyLine(a - 1, b + 2, 83, SERIES_COLORS[k], 'solid', 2);
});
keyText('Expert\u2212SVM', 242, 36, 'right');
keyText('.', 168, 60, 'left');
keyText('SVM', 207, 60, 'left');
graphics.push({ type: 'text', x: 176, y: 82,
  style: { text: '{a|LND}{s|1}{a|+SVM}', align: 'left', verticalAlign: 'middle',
    rich: { a: { font: '13px ' + SANS, fill: '#111' },
            s: { font: '9px ' + SANS, fill: '#111', padding: [8, 0, 0, 0] } } } });

const chart = echarts.init(document.getElementById('chart'), null, { renderer: 'canvas' });
chart.setOption({
  animation: false,
  backgroundColor: '#fff',
  grid: grids, xAxis: xAxes, yAxis: yAxes, series: series,
  graphic: { elements: graphics }
});
</script>
</body>
</html>
